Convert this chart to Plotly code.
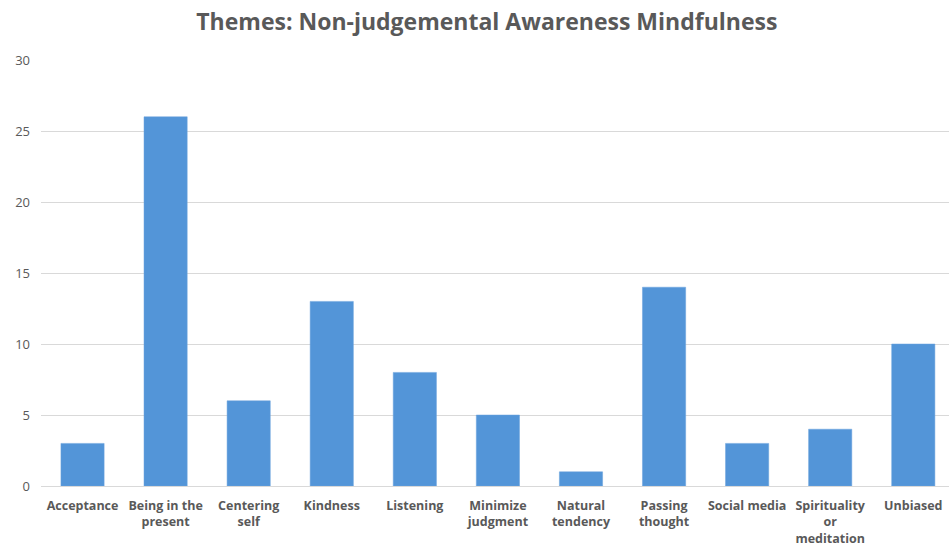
import plotly.graph_objects as go

categories = ["Acceptance", "Being in the present", "Centering self", "Kindness",
              "Listening", "Minimize judgment", "Natural tendency", "Passing thought",
              "Social media", "Spirituality or meditation", "Unbiased"]
tick_labels = ["Acceptance", "Being in the<br>present", "Centering<br>self", "Kindness",
               "Listening", "Minimize<br>judgment", "Natural<br>tendency", "Passing<br>thought",
               "Social media", "Spirituality<br>or<br>meditation", "Unbiased"]
values = [3, 26, 6, 13, 8, 5, 1, 14, 3, 4, 10]
y_ticks = [0, 5, 10, 15, 20, 25, 30]

fig = go.Figure(go.Bar(
    x=categories, y=values, width=0.52,
    marker=dict(color="#5395d8", line=dict(color="#6aa3dc", width=0.5)),
))

fig.update_layout(
    width=949, height=551,
    margin=dict(l=41, r=0, t=60, b=65),
    paper_bgcolor="white", plot_bgcolor="white",
    title=dict(text="<b>Themes: Non-judgemental Awareness Mindfulness</b>",
               x=0.513, xanchor="center", y=0.96, yanchor="middle",
               font=dict(family="Open Sans", size=23, color="#595959")),
    font=dict(family="Open Sans", color="#595959"),
    showlegend=False,
    bargap=0.48,
)
fig.update_xaxes(
    tickmode="array", tickvals=categories, ticktext=["<b>%s</b>" % t for t in tick_labels],
    tickfont=dict(size=12.5, color="#595959"),
    range=[-0.5, 10.43], automargin=False,
    showline=True, linecolor="#d9d9d9", linewidth=1, ticks="", tickangle=0,
    ticklabelstandoff=8,
)
fig.update_yaxes(
    range=[0, 30], tickvals=y_ticks,
    tickfont=dict(size=13, color="#595959"),
    showgrid=True, gridcolor="#d9d9d9", gridwidth=1, zeroline=False,
    ticks="", ticklabelstandoff=10,
)

fig.write_html("out.html")
